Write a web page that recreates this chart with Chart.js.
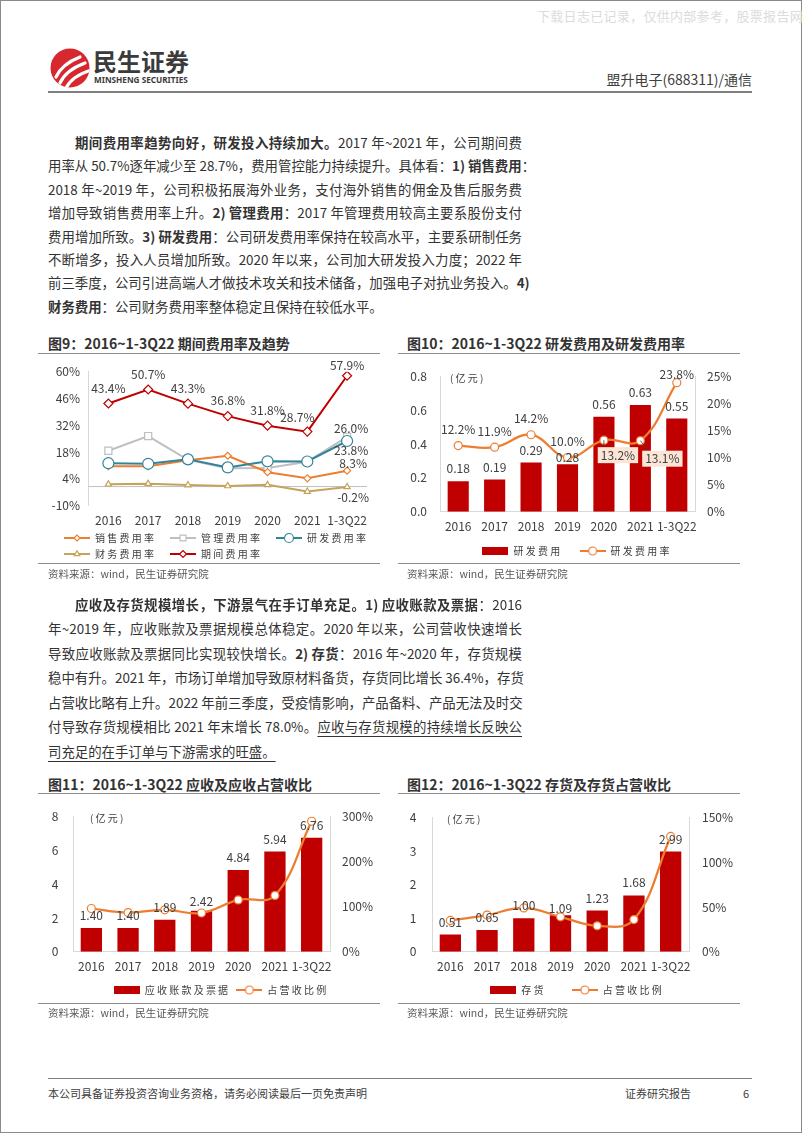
<!DOCTYPE html>
<html lang="zh-CN">
<head>
<meta charset="utf-8">
<title>盟升电子(688311)/通信</title>
<script src="https://cdn.jsdelivr.net/npm/chart.js"></script>
<style>
  html, body { margin: 0; padding: 0; background: #fff; }
  body { width: 802px; height: 1133px; position: relative; overflow: hidden;
         font-family: 'Noto Sans CJK SC', sans-serif; color: #333; }
  .frame { position: absolute; left: 0; top: 0; width: 800px; height: 1131px; border: 1px solid #8a8a8a; }
  .abs { position: absolute; white-space: nowrap; }
  .ln { position: absolute; height: 20px; line-height: 20px; font-size: 13.4px; color: #333;
        text-align: justify; text-align-last: justify; white-space: nowrap; }
  .ln.last { text-align: left; text-align-last: left; }
  .ln b { font-weight: bold; }
  .ln u { text-decoration: underline; text-underline-offset: 4px; text-decoration-thickness: 1px; }
  .rule { position: absolute; height: 0; border-top: 1.5px solid #8c8c8c; }
  .ttl { position: absolute; font-size: 14px; font-weight: bold; color: #333; height: 20px; line-height: 20px; white-space: nowrap; }
  .src { position: absolute; font-size: 10.5px; color: #595959; height: 16px; line-height: 16px; white-space: nowrap; }
  canvas { position: absolute; }
</style>
</head>
<body>
<div class="frame"></div>

<div class="abs" style="left:537px;top:6px;font-size:13px;letter-spacing:0.3px;color:#dcdcdc;">下载日志已记录，仅供内部参考，股票报告网</div>

<svg class="abs" style="left:50px;top:48px" width="40" height="40" viewBox="0 0 40 40">
  <defs><clipPath id="cc"><circle cx="20" cy="20" r="19.5"/></clipPath></defs>
  <circle cx="20" cy="20" r="19.5" fill="#d7282f"/>
  <g clip-path="url(#cc)" fill="none" stroke="#fff" stroke-linecap="round">
    <path d="M6 29 Q12 16 30 9" stroke-width="3.2"/>
    <path d="M10 35 Q16 22 35 15" stroke-width="3.2"/>
    <path d="M16 40 Q22 28 41 22" stroke-width="3.2"/>
  </g>
</svg>
<div class="abs" style="left:93px;top:47px;font-size:24px;font-weight:bold;color:#3b3b3b;line-height:28px;">民生证券</div>
<div class="abs" style="left:94px;top:74px;font-family:'Noto Sans',sans-serif;font-size:8.2px;font-weight:bold;color:#3b3b3b;line-height:12px;">MINSHENG SECURITIES</div>
<div class="abs" style="right:50px;top:69px;font-size:14px;color:#404040;line-height:20px;">盟升电子(688311)/通信</div>
<div class="rule" style="left:48px;top:91px;width:704px;border-top:2px solid #7f7f7f;"></div>

<div class="ln" style="left:75px;top:132px;width:447px;"><b>期间费用率趋势向好，研发投入持续加大。</b>2017 年~2021 年，公司期间费</div>
<div class="ln" style="left:48px;top:155.4px;width:474px;">用率从 50.7%逐年减少至 28.7%，费用管控能力持续提升。具体看：<b>1) 销售费用</b>：</div>
<div class="ln" style="left:48px;top:178.8px;width:474px;">2018 年~2019 年，公司积极拓展海外业务，支付海外销售的佣金及售后服务费</div>
<div class="ln" style="left:48px;top:202.2px;width:474px;">增加导致销售费用率上升。<b>2) 管理费用</b>：2017 年管理费用较高主要系股份支付</div>
<div class="ln" style="left:48px;top:225.6px;width:474px;">费用增加所致。<b>3) 研发费用</b>：公司研发费用率保持在较高水平，主要系研制任务</div>
<div class="ln" style="left:48px;top:249px;width:474px;">不断增多，投入人员增加所致。2020 年以来，公司加大研发投入力度；2022 年</div>
<div class="ln" style="left:48px;top:272.4px;width:474px;">前三季度，公司引进高端人才做技术攻关和技术储备，加强电子对抗业务投入。<b>4)</b></div>
<div class="ln last" style="left:48px;top:295.8px;width:474px;"><b>财务费用</b>：公司财务费用率整体稳定且保持在较低水平。</div>

<div class="ttl" style="left:48px;top:333px;">图9：2016~1-3Q22 期间费用率及趋势</div>
<div class="ttl" style="left:407px;top:333px;">图10：2016~1-3Q22 研发费用及研发费用率</div>
<div class="rule" style="left:38px;top:352.5px;width:342px;"></div>
<div class="rule" style="left:398px;top:352.5px;width:342px;"></div>
<canvas id="c9" width="344" height="213" style="left:48px;top:356px;"></canvas>
<canvas id="c10" width="352" height="210" style="left:400px;top:356px;"></canvas>
<div class="rule" style="left:38px;top:562.5px;width:342px;"></div>
<div class="rule" style="left:398px;top:562.5px;width:342px;"></div>
<div class="src" style="left:48px;top:566px;">资料来源：wind，民生证券研究院</div>
<div class="src" style="left:407px;top:566px;">资料来源：wind，民生证券研究院</div>

<div class="ln" style="left:75px;top:593.8px;width:447px;"><b>应收及存货规模增长，下游景气在手订单充足。1) 应收账款及票据</b>：2016</div>
<div class="ln" style="left:48px;top:618.2px;width:474px;">年~2019 年，应收账款及票据规模总体稳定。2020 年以来，公司营收快速增长</div>
<div class="ln" style="left:48px;top:642.7px;width:474px;">导致应收账款及票据同比实现较快增长。<b>2) 存货</b>：2016 年~2020 年，存货规模</div>
<div class="ln" style="left:48px;top:667.1px;width:474px;">稳中有升。2021 年，市场订单增加导致原材料备货，存货同比增长 36.4%，存货</div>
<div class="ln" style="left:48px;top:691.6px;width:474px;">占营收比略有上升。2022 年前三季度，受疫情影响，产品备料、产品无法及时交</div>
<div class="ln" style="left:48px;top:716px;width:474px;">付导致存货规模相比 2021 年末增长 78.0%。<u>应收与存货规模的持续增长反映公</u></div>
<div class="ln last" style="left:48px;top:740.5px;width:474px;"><u>司充足的在手订单与下游需求的旺盛。</u></div>

<div class="ttl" style="left:48px;top:774px;">图11：2016~1-3Q22 应收及应收占营收比</div>
<div class="ttl" style="left:407px;top:774px;">图12：2016~1-3Q22 存货及存货占营收比</div>
<div class="rule" style="left:38px;top:792.5px;width:342px;"></div>
<div class="rule" style="left:398px;top:792.5px;width:342px;"></div>
<canvas id="c11" width="344" height="210" style="left:48px;top:795px;"></canvas>
<canvas id="c12" width="352" height="210" style="left:400px;top:795px;"></canvas>
<div class="rule" style="left:38px;top:1002.5px;width:342px;"></div>
<div class="rule" style="left:398px;top:1002.5px;width:342px;"></div>
<div class="src" style="left:48px;top:1005px;">资料来源：wind，民生证券研究院</div>
<div class="src" style="left:407px;top:1005px;">资料来源：wind，民生证券研究院</div>

<div class="rule" style="left:48px;top:1078px;width:704px;border-top:1px solid #7f7f7f;"></div>
<div class="abs" style="left:48px;top:1085px;font-size:11px;color:#404040;line-height:16px;">本公司具备证券投资咨询业务资格，请务必阅读最后一页免责声明</div>
<div class="abs" style="left:625px;top:1085px;font-size:11px;color:#404040;line-height:16px;">证券研究报告</div>
<div class="abs" style="left:743px;top:1085px;font-size:11px;color:#404040;line-height:16px;">6</div>

<script>
const years = ['2016', '2017', '2018', '2019', '2020', '2021', '1-3Q22'];

// fig 9: expense ratios, %
const sellingRate = [10.6, 10.6, 13.7, 16.1, 7.5, 4.3, 8.3];
const adminRate = [18.7, 26.4, 14.0, 9.6, 9.7, 13.0, 26.0];
const rdRate = [12.2, 11.9, 14.2, 10.0, 13.2, 13.1, 23.8];
const financeRate = [1.2, 1.5, 0.8, 0.3, 0.9, -2.6, -0.2];
const periodRate = [43.4, 50.7, 43.3, 36.8, 31.8, 28.7, 57.9];

// fig 10: R&D expense, 100m yuan
const rdExpense = [0.18, 0.19, 0.29, 0.28, 0.56, 0.63, 0.55];

// fig 11: receivables (100m yuan) and share of revenue (%)
const receivables = [1.40, 1.40, 1.89, 2.42, 4.84, 5.94, 6.76];
const receivablesRatio = [96, 87, 93, 86, 115, 125, 290];

// fig 12: inventory (100m yuan) and share of revenue (%)
const inventory = [0.51, 0.65, 1.00, 1.09, 1.23, 1.68, 2.99];
const inventoryRatio = [35, 41, 49, 39, 29, 36, 129];

const RED = '#c00000', ORANGE = '#ed7d31', GREY = '#bfbfbf', TEAL = '#31849b', TAN = '#c4a35a';
const AXIS = '#d9d9d9', TXT = '#404040';

Chart.defaults.font.family = "'Noto Sans CJK SC', sans-serif";
Chart.defaults.font.size = 12;
Chart.defaults.color = TXT;
Chart.defaults.animation = false;
Chart.defaults.responsive = false;
Chart.defaults.plugins.tooltip.enabled = false;

const pct = v => v + '%';
const pct1 = v => v.toFixed(1) + '%';
const dec2 = v => v.toFixed(2);
const spaced = (s, trail) => s.split('').join(' ') + ' '.repeat(trail || 0);

// legend icon: a short line with its marker, optionally with blank space on the left
function lineIcon(color, style, radius, lead) {
  lead = lead || 0;
  const c = document.createElement('canvas');
  c.width = 26 + lead; c.height = 12;
  const g = c.getContext('2d');
  g.strokeStyle = color; g.lineWidth = 2;
  g.beginPath(); g.moveTo(lead, 6); g.lineTo(26 + lead, 6); g.stroke();
  g.fillStyle = '#fff';
  g.lineWidth = 1.2;
  Chart.helpers.drawPoint(g, { pointStyle: style, radius: radius, borderWidth: 1.2, rotation: 0 }, lead + 13, 6);
  return c;
}
function boxIcon(color) {
  const c = document.createElement('canvas');
  c.width = 26; c.height = 8;
  const g = c.getContext('2d');
  g.fillStyle = color; g.fillRect(0, 0, 26, 8);
  return c;
}

function legendFrom(order) {
  return chart => order.map(i => {
    const ds = chart.data.datasets[i];
    return {
      text: spaced(ds.label, ds.legendTrail),
      pointStyle: ds.legendIcon,
      fontColor: TXT, fillStyle: 'transparent', strokeStyle: 'transparent',
      lineWidth: 0, hidden: false, datasetIndex: i
    };
  });
}
const legendOpts = (order, align, boxW) => ({
  position: 'bottom', align: align || 'center',
  labels: { usePointStyle: true, pointStyleWidth: boxW || 26, padding: 6, font: { size: 10 }, color: TXT,
            generateLabels: legendFrom(order) }
});

const valueLabels = {
  id: 'valueLabels',
  afterDatasetsDraw(chart, args, opts) {
    const ctx = chart.ctx;
    (opts.items || []).forEach(spec => {
      const ds = chart.data.datasets[spec.dataset];
      chart.getDatasetMeta(spec.dataset).data.forEach((el, i) => {
        if (spec.only && spec.only.indexOf(i) < 0) return;
        const t = (spec.tweak && spec.tweak[i]) || {};
        const x = el.x + (t.dx ?? spec.dx ?? 0);
        const y = el.y + (t.dy ?? spec.dy ?? 0);
        const text = spec.format(ds.data[i]);
        ctx.save();
        ctx.font = "12px 'Noto Sans CJK SC', sans-serif";
        ctx.textAlign = 'center';
        ctx.textBaseline = 'middle';
        if (t.box) {
          const w = ctx.measureText(text).width + 6;
          ctx.strokeStyle = TXT; ctx.lineWidth = 0.8;
          ctx.beginPath(); ctx.moveTo(el.x, el.y); ctx.lineTo(x - w / 2 + 6, y - 8); ctx.stroke();
          ctx.fillStyle = '#fbe5d6';
          ctx.fillRect(x - w / 2, y - 8, w, 16);
        }
        ctx.fillStyle = TXT;
        ctx.fillText(text, x, y);
        ctx.restore();
      });
    });
  }
};

const unitLabel = {
  id: 'unitLabel',
  afterDraw(chart, args, opts) {
    if (!opts.text) return;
    const ctx = chart.ctx;
    ctx.save();
    ctx.font = "10px 'Noto Sans CJK SC', sans-serif";
    ctx.fillStyle = TXT;
    ctx.textBaseline = 'middle';
    ctx.fillText(spaced(opts.text), chart.chartArea.left + opts.dx, chart.chartArea.top + 2);
    ctx.restore();
  }
};

const zeroLine = {
  id: 'zeroLine',
  beforeDatasetsDraw(chart, args, opts) {
    if (!opts.color) return;
    const y = chart.scales.y.getPixelForValue(0);
    const ctx = chart.ctx;
    ctx.save();
    ctx.strokeStyle = opts.color; ctx.lineWidth = 1;
    ctx.beginPath(); ctx.moveTo(chart.chartArea.left, y); ctx.lineTo(chart.chartArea.right, y); ctx.stroke();
    ctx.restore();
  }
};

const xAxis = (height, border) => ({
  offset: true,
  grid: { display: false, drawTicks: false },
  border: { display: border, color: AXIS },
  ticks: { padding: 7.5, autoSkip: false, maxRotation: 0, font: { size: 12 } },
  afterFit: s => { s.height = height; }
});
const yAxis = (pos, min, max, step, fmt, width, pad) => ({
  position: pos, min: min, max: max,
  grid: { display: false, drawTicks: false },
  border: { display: true, color: AXIS },
  ticks: { stepSize: step, padding: pad, callback: fmt, font: { size: 12 } },
  afterFit: s => { s.width = width; }
});

function rateLine(label, data, color, style, radius, icon, order) {
  return {
    label: label, data: data, borderColor: color, borderWidth: 2, tension: 0,
    pointStyle: style, pointRadius: radius, pointBackgroundColor: '#fff',
    pointBorderColor: color, pointBorderWidth: 1.2, order: order,
    legendIcon: lineIcon(color, style, icon, 10), legendTrail: 0
  };
}

// fig 9
new Chart(document.getElementById('c9'), {
  type: 'line',
  data: {
    labels: years,
    datasets: [
      rateLine('销售费用率', sellingRate, ORANGE, 'rectRot', 3.5, 3, 2),
      rateLine('管理费用率', adminRate, GREY, 'rect', 5, 4.2, 3),
      rateLine('研发费用率', rdRate, TEAL, 'circle', 5.5, 4.5, 1),
      rateLine('财务费用率', financeRate, TAN, 'triangle', 3.5, 3.2, 4),
      rateLine('期间费用率', periodRate, RED, 'rectRot', 4.5, 3.5, 0)
    ]
  },
  options: {
    layout: { padding: { left: 0, top: 13, right: 0, bottom: 0 } },
    scales: {
      x: xAxis(21.3, false),
      y: yAxis('left', -10, 60, 14, pct, 40.5, 8.5),
      yr: { position: 'right', grid: { display: false, drawTicks: false }, border: { display: false },
            ticks: { display: false }, afterFit: s => { s.width = 25; } }
    },
    plugins: {
      legend: legendOpts([0, 1, 2, 3, 4], 'start', 36),
      zeroLine: { color: GREY },
      valueLabels: { items: [
        { dataset: 4, format: pct1, dy: -15.5, tweak: { 5: { dx: -10, dy: -14 }, 6: { dy: -10 } } },
        { dataset: 1, format: pct1, only: [6], dx: 4, dy: -8 },
        { dataset: 2, format: pct1, only: [6], dx: 4, dy: 9 },
        { dataset: 0, format: pct1, only: [6], dx: 6, dy: -7 },
        { dataset: 3, format: pct1, only: [6], dx: 6, dy: 10 }
      ] }
    }
  },
  plugins: [valueLabels, zeroLine]
});

function smoothLine(label, data) {
  return {
    type: 'line', label: label, data: data, yAxisID: 'y1',
    borderColor: ORANGE, borderWidth: 2.25, tension: 0.4,
    pointRadius: 4, pointBackgroundColor: '#fff', pointBorderColor: ORANGE, pointBorderWidth: 1.2,
    legendIcon: lineIcon(ORANGE, 'circle', 4), legendTrail: 0
  };
}
function redBars(label, data, trail) {
  return {
    type: 'bar', label: label, data: data, yAxisID: 'y',
    backgroundColor: RED, barPercentage: 0.58, categoryPercentage: 1,
    legendIcon: boxIcon(RED), legendTrail: trail
  };
}

// fig 10
new Chart(document.getElementById('c10'), {
  type: 'bar',
  data: { labels: years, datasets: [smoothLine('研发费用率', rdRate), redBars('研发费用', rdExpense, 6)] },
  options: {
    layout: { padding: { top: 9 } },
    scales: {
      x: xAxis(28.3, true),
      y: yAxis('left', 0, 0.8, 0.2, v => v.toFixed(1), 40, 13),
      y1: yAxis('right', 0, 25, 5, pct, 57, 12)
    },
    plugins: {
      legend: legendOpts([1, 0]),
      unitLabel: { text: '(亿元)', dx: 10 },
      valueLabels: { items: [
        { dataset: 1, format: dec2, dy: -12.5, tweak: { 3: { dy: -7 } } },
        { dataset: 0, format: pct1, dy: -16, tweak: { 4: { dx: 14, dy: 15, box: true }, 5: { dx: 22, dy: 18, box: true }, 6: { dy: -8 } } }
      ] }
    }
  },
  plugins: [valueLabels, unitLabel]
});

// fig 11
new Chart(document.getElementById('c11'), {
  type: 'bar',
  data: { labels: years, datasets: [smoothLine('占营收比例', receivablesRatio), redBars('应收账款及票据', receivables, 1)] },
  options: {
    layout: { padding: { top: 8.3 } },
    scales: {
      x: xAxis(27.3, true),
      y: yAxis('left', 0, 8, 2, v => v, 25, 14.5),
      y1: yAxis('right', 0, 300, 100, pct, 62, 12)
    },
    plugins: {
      legend: legendOpts([1, 0]),
      unitLabel: { text: '(亿元)', dx: 17 },
      valueLabels: { items: [
        { dataset: 1, format: dec2, dy: -12.5, tweak: { 3: { dy: -9 } } }
      ] }
    }
  },
  plugins: [valueLabels, unitLabel]
});

// fig 12
new Chart(document.getElementById('c12'), {
  type: 'bar',
  data: { labels: years, datasets: [smoothLine('占营收比例', inventoryRatio), redBars('存货', inventory, 10)] },
  options: {
    layout: { padding: { top: 8.3 } },
    scales: {
      x: xAxis(27.3, true),
      y: yAxis('left', 0, 4, 1, v => v, 32, 15.5),
      y1: yAxis('right', 0, 150, 50, pct, 63, 13)
    },
    plugins: {
      legend: legendOpts([1, 0]),
      unitLabel: { text: '(亿元)', dx: 15 },
      valueLabels: { items: [
        { dataset: 1, format: dec2, dy: -12.5, tweak: { 3: { dy: -7 } } }
      ] }
    }
  },
  plugins: [valueLabels, unitLabel]
});
</script>
</body>
</html>
